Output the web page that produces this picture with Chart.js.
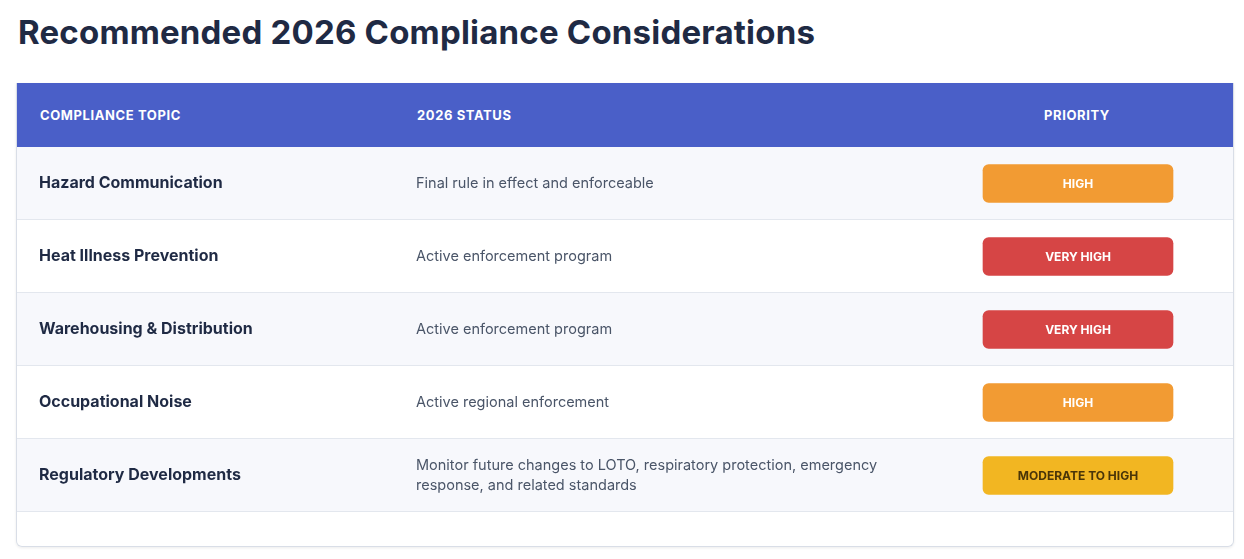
<!DOCTYPE html>
<html>
<head>
<meta charset="utf-8">
<script src="https://cdn.jsdelivr.net/npm/chart.js@4/dist/chart.umd.min.js"></script>
<style>
body{margin:0;background:#fff;font-family:Inter,"Noto Sans",sans-serif;}
h1{position:absolute;left:18px;top:12px;margin:0;font-size:33px;font-weight:700;color:#1f2a44;letter-spacing:0.2px;}
#card{position:absolute;left:16px;top:83px;width:1216px;height:463px;border:1px solid #d9dee7;border-top:none;border-radius:0 0 6px 6px;overflow:hidden;box-shadow:0 1px 3px rgba(0,0,0,0.08);}
#head{height:64px;background:#4a5fc8;position:relative;color:#fff;font-size:13px;font-weight:700;letter-spacing:0.6px;}
#head span{position:absolute;top:24px;}
#wrap{position:relative;width:1216px;height:399px;}
</style>
</head>
<body>
<h1>Recommended 2026 Compliance Considerations</h1>
<div id="card">
  <div id="head">
    <span style="left:23px">COMPLIANCE TOPIC</span>
    <span style="left:400px">2026 STATUS</span>
    <span style="left:1027px">PRIORITY</span>
  </div>
  <div id="wrap"><canvas id="chart"></canvas></div>
</div>
<script>
const topics = ["Hazard Communication","Heat Illness Prevention","Warehousing & Distribution","Occupational Noise","Regulatory Developments"];
const statuses = [
  ["Final rule in effect and enforceable"],
  ["Active enforcement program"],
  ["Active enforcement program"],
  ["Active regional enforcement"],
  ["Monitor future changes to LOTO, respiratory protection, emergency","response, and related standards"]
];
const priorities = ["HIGH","VERY HIGH","VERY HIGH","HIGH","MODERATE TO HIGH"];

const badgeFill = {"HIGH":"#f29b33","VERY HIGH":"#d64545","MODERATE TO HIGH":"#f2b622"};
const badgeText = {"HIGH":"#ffffff","VERY HIGH":"#ffffff","MODERATE TO HIGH":"#4a3508"};

const tablePlugin = {
  id:"table",
  beforeDatasetsDraw(chart){
    const ctx = chart.ctx, y = chart.scales.y, area = chart.chartArea;
    const band = y.getPixelForValue(1) - y.getPixelForValue(0);
    topics.forEach((t,i)=>{
      const cy = y.getPixelForValue(i);
      ctx.fillStyle = i%2===0 ? "#f7f8fc" : "#ffffff";
      ctx.fillRect(0, cy-band/2, chart.width, band);
      ctx.fillStyle = "#e3e7ee";
      ctx.fillRect(0, cy+band/2-1, chart.width, 1);
      ctx.textBaseline = "middle";
      ctx.fillStyle = "#1f2a44";
      ctx.font = "700 16px Inter, sans-serif";
      ctx.fillText(t, 22, cy);
      ctx.fillStyle = "#4a5568";
      ctx.font = "14.5px Inter, sans-serif";
      const lines = statuses[i];
      lines.forEach((l,k)=>{
        ctx.fillText(l, 399, cy + (k-(lines.length-1)/2)*20);
      });
    });
  },
  afterDatasetsDraw(chart){
    const ctx = chart.ctx, x = chart.scales.x, y = chart.scales.y;
    ctx.font = "700 12px Inter, sans-serif";
    ctx.textAlign = "center";
    ctx.textBaseline = "middle";
    priorities.forEach((p,i)=>{
      ctx.fillStyle = badgeText[p];
      ctx.fillText(p, (x.getPixelForValue(966)+x.getPixelForValue(1156))/2, y.getPixelForValue(i)+1);
    });
  }
};

new Chart(document.getElementById("chart"),{
  type:"bar",
  data:{
    labels:topics,
    datasets:[{
      data:priorities.map(()=>[966,1156]),
      backgroundColor:priorities.map(p=>badgeFill[p]),
      borderRadius:6,
      borderSkipped:false,
      barThickness:38
    }]
  },
  options:{
    indexAxis:"y",
    responsive:true,
    maintainAspectRatio:false,
    animation:false,
    layout:{padding:{bottom:34}},
    plugins:{legend:{display:false},tooltip:{enabled:false}},
    scales:{
      x:{display:false,min:0,max:1216},
      y:{display:false}
    }
  },
  plugins:[tablePlugin]
});
</script>
</body>
</html>
